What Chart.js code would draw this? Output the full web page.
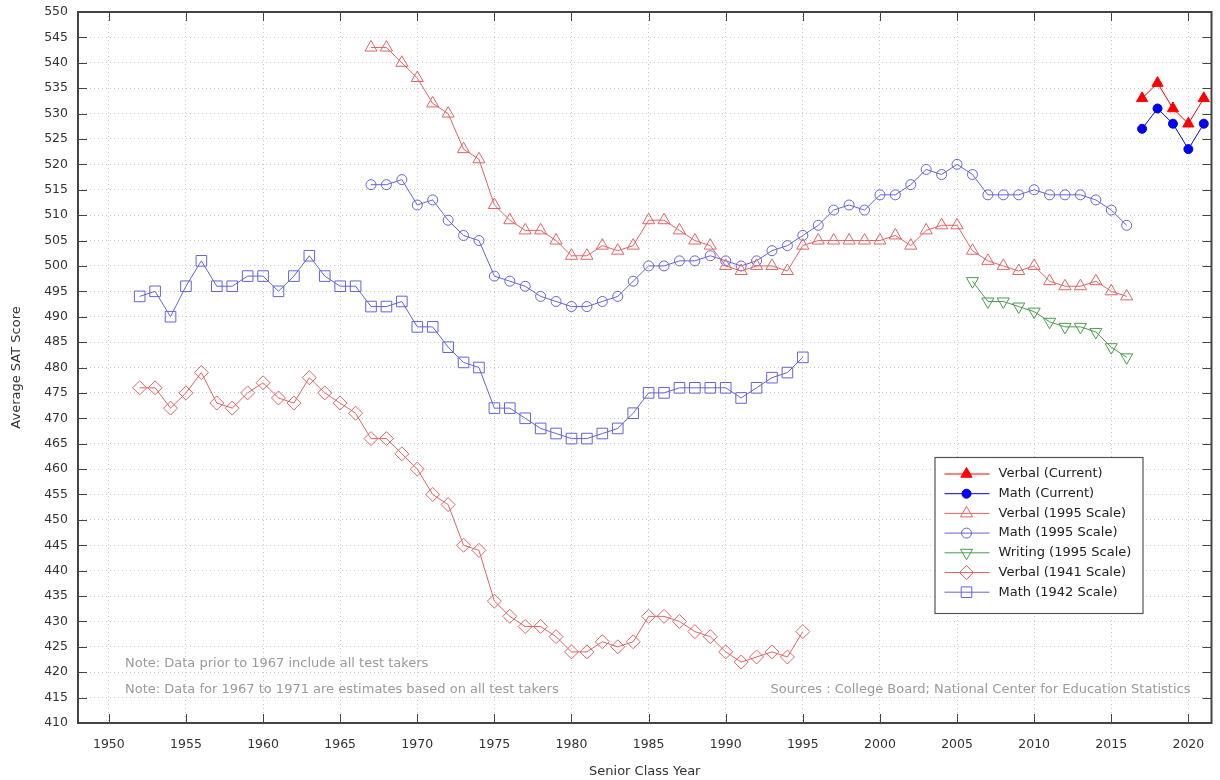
<!DOCTYPE html>
<html>
<head>
<meta charset="utf-8">
<title>Average SAT Score by Senior Class Year</title>
<script src="https://cdn.jsdelivr.net/npm/chart.js@4.4.1/dist/chart.umd.min.js"></script>
<style>
  body { margin: 0; background: #fff; }
  #wrap { width: 1220px; height: 780px; }
</style>
</head>
<body>
<div id="wrap"><canvas id="satChart" width="1220" height="780"></canvas></div>
<script>
// Years (categories)
function years(from, to) {
    const out = [];
    for (let y = from; y <= to; y++) out.push(y);
    return out;
}
const yearsCurrent = years(2017, 2021);
const years1995 = years(1967, 2016);
const yearsWriting = years(2006, 2016);
const yearsOld = years(1952, 1995);

// Series values
const verbalCurrent = [533, 536, 531, 528, 533];
const mathCurrent = [527, 531, 528, 523, 528];
const verbal1995 = [543, 543, 540, 537, 532, 530, 523, 521, 512, 509,
                    507, 507, 505, 502, 502, 504, 503, 504, 509, 509,
                    507, 505, 504, 500, 499, 500, 500, 499, 504, 505,
                    505, 505, 505, 505, 506, 504, 507, 508, 508, 503,
                    501, 500, 499, 500, 497, 496, 496, 497, 495, 494];
const math1995 = [516, 516, 517, 512, 513, 509, 506, 505, 498, 497,
                  496, 494, 493, 492, 492, 493, 494, 497, 500, 500,
                  501, 501, 502, 501, 500, 501, 503, 504, 506, 508,
                  511, 512, 511, 514, 514, 516, 519, 518, 520, 518,
                  514, 514, 514, 515, 514, 514, 514, 513, 511, 508];
const writing1995 = [497, 493, 493, 492, 491, 489, 488, 488, 487, 484, 482];
const verbal1941 = [476, 476, 472, 475, 479, 473, 472, 475, 477, 474,
                    473, 478, 475, 473, 471, 466, 466, 463, 460, 455,
                    453, 445, 444, 434, 431, 429, 429, 427, 424, 424,
                    426, 425, 426, 431, 431, 430, 428, 427, 424, 422,
                    423, 424, 423, 428];
const math1942 = [494, 495, 490, 496, 501, 496, 496, 498, 498, 495,
                  498, 502, 498, 496, 496, 492, 492, 493, 488, 488,
                  484, 481, 480, 472, 472, 470, 468, 467, 466, 466,
                  467, 468, 471, 475, 475, 476, 476, 476, 476, 474,
                  476, 478, 479, 482];

// Tick labels
const xTicks = [1950, 1955, 1960, 1965, 1970, 1975, 1980, 1985, 1990, 1995, 2000, 2005, 2010, 2015, 2020];
const yMin = 410, yMax = 550, yStep = 5;

const notes = [
    'Note: Data prior to 1967 include all test takers',
    'Note: Data for 1967 to 1971 are estimates based on all test takers'
];
const sourceNote = 'Sources : College Board; National Center for Education Statistics';

const FONT = '"DejaVu Sans", Verdana, sans-serif';
const RED = '#ff0000', BLUE = '#0000ee';
const LRED = '#e46464', LBLUE = '#6464dc', GREEN = '#4c9c4c';

function pts(xs, ys) {
    return xs.map((x, i) => ({ x: x, y: ys[i] }));
}

function series(label, xs, ys, color, style, radius, filled, rotation) {
    return {
        label: label,
        data: pts(xs, ys),
        borderColor: color,
        backgroundColor: color,
        borderWidth: 1,
        pointStyle: style,
        pointRadius: radius,
        pointHoverRadius: radius,
        pointRotation: rotation || 0,
        pointBorderColor: color,
        pointBackgroundColor: filled ? color : 'rgba(0,0,0,0)',
        pointBorderWidth: 1,
        tension: 0,
        fill: false
    };
}

const datasets = [
    series('Verbal (Current)', yearsCurrent, verbalCurrent, RED, 'triangle', 6.5, true),
    series('Math (Current)', yearsCurrent, mathCurrent, BLUE, 'circle', 4.5, true),
    series('Verbal (1995 Scale)', years1995, verbal1995, LRED, 'triangle', 7, false),
    series('Math (1995 Scale)', years1995, math1995, LBLUE, 'circle', 5, false),
    series('Writing (1995 Scale)', yearsWriting, writing1995, GREEN, 'triangle', 7, false, 180),
    series('Verbal (1941 Scale)', yearsOld, verbal1941, LRED, 'rectRot', 7, false),
    series('Math (1942 Scale)', yearsOld, math1942, LBLUE, 'rect', 7.5, false)
];

// Frame, inward ticks, notes and legend box (gnuplot look)
const decor = {
    id: 'decor',
    afterDatasetsDraw(chart) {
        const ctx = chart.ctx;
        const a = chart.chartArea;
        const xs = chart.scales.x, ys = chart.scales.y;
        const tl = 9;

        ctx.save();
        ctx.strokeStyle = '#444';
        ctx.lineWidth = 1;
        ctx.beginPath();
        xs.ticks.forEach(t => {
            const px = Math.round(xs.getPixelForValue(t.value)) + 0.5;
            ctx.moveTo(px, a.bottom); ctx.lineTo(px, a.bottom - tl);
            ctx.moveTo(px, a.top); ctx.lineTo(px, a.top + tl);
        });
        ys.ticks.forEach(t => {
            const py = Math.round(ys.getPixelForValue(t.value)) + 0.5;
            ctx.moveTo(a.left, py); ctx.lineTo(a.left + tl, py);
            ctx.moveTo(a.right, py); ctx.lineTo(a.right - tl, py);
        });
        ctx.stroke();

        ctx.lineWidth = 2;
        ctx.strokeStyle = '#444';
        ctx.strokeRect(a.left, a.top, a.right - a.left, a.bottom - a.top);

        // notes
        ctx.font = '13px ' + FONT;
        ctx.fillStyle = '#9a9a9a';
        ctx.textBaseline = 'middle';
        ctx.textAlign = 'left';
        ctx.fillText(notes[0], a.left + 47, a.bottom - 59);
        ctx.fillText(notes[1], a.left + 47, a.bottom - 33);
        ctx.textAlign = 'right';
        ctx.fillText(sourceNote, a.right - 21, a.bottom - 33);

        // legend
        const bx = a.right - 277, by = a.top + 445, bw = 208, bh = 156;
        ctx.fillStyle = '#fff';
        ctx.fillRect(bx, by, bw, bh);
        ctx.lineWidth = 1.2;
        ctx.strokeStyle = '#555';
        ctx.strokeRect(bx + 0.5, by + 0.5, bw, bh);
        ctx.font = '13px ' + FONT;
        ctx.textAlign = 'left';
        chart.data.datasets.forEach((ds, i) => {
            const ry = by + 17 + i * 19.7;
            ctx.strokeStyle = ds.borderColor;
            ctx.lineWidth = 1;
            ctx.beginPath();
            ctx.moveTo(bx + 10, ry);
            ctx.lineTo(bx + 55, ry);
            ctx.stroke();
            ctx.fillStyle = ds.pointBackgroundColor;
            Chart.helpers.drawPoint(ctx, {
                pointStyle: ds.pointStyle,
                rotation: ds.pointRotation,
                radius: ds.pointRadius,
                borderWidth: 1
            }, bx + 32, ry);
            ctx.fillStyle = '#222';
            ctx.fillText(ds.label, bx + 64, ry);
        });
        ctx.restore();
    }
};

const ctx = document.getElementById('satChart').getContext('2d');
const satChart = new Chart(ctx, {
    type: 'line',
    data: { datasets: datasets },
    options: {
        responsive: false,
        animation: false,
        layout: { padding: { top: 12, right: 6, left: 0, bottom: 0 } },
        plugins: {
            legend: { display: false },
            tooltip: { enabled: false }
        },
        scales: {
            x: {
                type: 'linear',
                min: 1948,
                max: 2021.5,
                afterBuildTicks: (scale) => {
                    scale.ticks = xTicks.map(v => ({ value: v }));
                },
                afterFit: (scale) => { scale.height = 57; },
                // transparent tick marks act as the gap between frame and labels
                grid: { color: '#c8c8c8', lineWidth: 1, drawTicks: true, tickLength: 14, tickColor: 'rgba(0,0,0,0)' },
                border: { display: false, dash: [1, 3] },
                ticks: {
                    padding: 0,
                    color: '#333',
                    font: { family: FONT, size: 12.5 },
                    autoSkip: false,
                    maxRotation: 0,
                    callback: (v) => String(v)
                },
                title: {
                    display: true,
                    text: 'Senior Class Year',
                    color: '#333',
                    font: { family: FONT, size: 13 },
                    padding: { top: 0, bottom: 1 }
                }
            },
            y: {
                min: yMin,
                max: yMax,
                afterFit: (scale) => { scale.width = 78; },
                grid: { color: '#c8c8c8', lineWidth: 1, drawTicks: true, tickLength: 10, tickColor: 'rgba(0,0,0,0)' },
                border: { display: false, dash: [1, 3] },
                ticks: {
                    stepSize: yStep,
                    padding: 0,
                    color: '#333',
                    font: { family: FONT, size: 12.5 }
                },
                title: {
                    display: true,
                    text: 'Average SAT Score',
                    color: '#333',
                    font: { family: FONT, size: 13 },
                    padding: { top: 9, bottom: 0 }
                }
            }
        }
    },
    plugins: [decor]
});
</script>
</body>
</html>
